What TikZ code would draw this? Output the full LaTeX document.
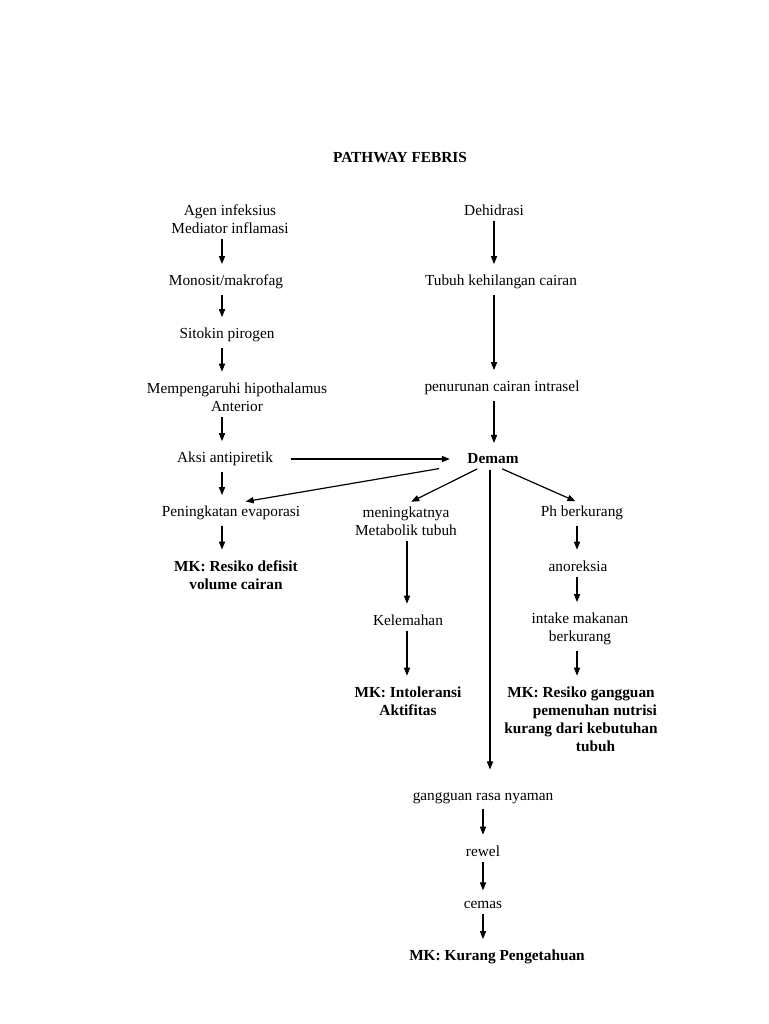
\documentclass[tikz,border=0pt]{standalone}
\usepackage{fontspec}
\setmainfont{Liberation Serif}
\usepackage{xcolor}
\usepackage{tikz}
\usetikzlibrary{calc, arrows.meta}

\begin{document}
\begin{tikzpicture}[x=0.75pt, y=-0.75pt,
        txt/.style={align=center, inner sep=3pt, yshift=-1.5pt,
                    font=\fontsize{11.5}{13.5}\selectfont},
        mk/.style={txt, font=\fontsize{11.5}{13.5}\selectfont\bfseries},
        arr/.style={-{Triangle[length=6pt, width=4.6pt]}, line width=0.9pt,
                    shorten >=5pt, shorten <=1pt}]
        \useasboundingbox (0,0) rectangle (768,1024);

        % Title
        \node[mk] (title) at (400,156) {PATHWAY FEBRIS};

        % Left column
        \node[txt] (agen)    at (230,217) {Agen infeksius\\Mediator inflamasi};
        \node[txt] (monosit) at (226,280) {Monosit/makrofag};
        \node[txt] (sitokin) at (227,333) {Sitokin pirogen};
        \node[txt] (hipo)    at (237,395) {Mempengaruhi hipothalamus\\Anterior};
        \node[txt] (aksi)    at (225,457) {Aksi antipiretik};
        \node[txt] (evap)    at (231,511) {Peningkatan evaporasi};
        \node[mk]  (mkcair)  at (236,573) {MK: Resiko defisit\\volume cairan};

        % Right column
        \node[txt] (dehid)   at (494,208) {Dehidrasi};
        \node[txt] (tubuh)   at (501,280) {Tubuh kehilangan cairan};
        \node[txt] (turun)   at (502,386) {penurunan cairan intrasel};
        \node[mk]  (demam)   at (493,457) {Demam};

        % Branches under Demam
        \node[txt] (metab)   at (406,519) {meningkatnya\\Metabolik tubuh};
        \node[txt] (lemah)   at (408,618) {Kelemahan};
        \node[mk]  (mkakt)   at (408,699) {MK: Intoleransi\\Aktifitas};
        \node[txt] (ph)      at (582,511) {Ph berkurang};
        \node[txt] (anor)    at (578,564) {anoreksia};
        \node[txt] (intake)  at (580,627) {intake makanan\\berkurang};
        \node[mk]  (mknutr)  at (581,717) {MK: Resiko gangguan\\
                                \hspace*{1.8em}pemenuhan nutrisi\\
                                kurang dari kebutuhan\\
                                \hspace*{1.9em}tubuh};
        \node[txt] (nyaman)  at (483,796) {gangguan rasa nyaman};
        \node[txt] (rewel)   at (483,849) {rewel};
        \node[txt] (cemas)   at (483,903) {cemas};
        \node[mk]  (mkpeng)  at (497,955) {MK: Kurang Pengetahuan};

        % Arrow columns
        \coordinate (colA) at (222,0);
        \coordinate (colB) at (494,0);
        \coordinate (colC) at (407,0);
        \coordinate (colD) at (577,0);
        \coordinate (colE) at (483,0);
        \coordinate (spine) at (490,0);

        % Arrows
        \draw[arr] (agen.south -| colA)    -- (monosit.north -| colA);
        \draw[arr] (monosit.south -| colA) -- (sitokin.north -| colA);
        \draw[arr] (sitokin.south -| colA) -- (hipo.north -| colA);
        \draw[arr] (hipo.south -| colA)    -- (aksi.north -| colA);
        \draw[arr] (aksi.south -| colA)    -- (evap.north -| colA);
        \draw[arr] (evap.south -| colA)    -- (mkcair.north -| colA);

        \draw[arr] (dehid.south -| colB)   -- (tubuh.north -| colB);
        \draw[arr] (tubuh.south -| colB)   -- (turun.north -| colB);
        \draw[arr] (turun.south -| colB)   -- (demam.north -| colB);

        \draw[arr, shorten <=10pt, shorten >=10pt] (aksi.east) -- (demam.west);
        \draw[arr, shorten >=1pt] ([xshift=-17pt]demam.south west) -- ([xshift=10pt]evap.north);
        \draw[arr, shorten >=1pt] ([xshift=-11pt]demam.south) -- ([xshift=3pt]metab.north);
        \draw[arr, shorten >=1pt] ([xshift=6pt]demam.south) -- ([xshift=-4pt]ph.north);
        \draw[arr, shorten >=14pt] (demam.south -| spine) -- (nyaman.north -| spine);

        \draw[arr] (metab.south -| colC)   -- (lemah.north -| colC);
        \draw[arr] (lemah.south -| colC)   -- (mkakt.north -| colC);

        \draw[arr] (ph.south -| colD)      -- (anor.north -| colD);
        \draw[arr] (anor.south -| colD)    -- (intake.north -| colD);
        \draw[arr] (intake.south -| colD)  -- (mknutr.north -| colD);

        \draw[arr] (nyaman.south -| colE)  -- (rewel.north -| colE);
        \draw[arr] (rewel.south -| colE)   -- (cemas.north -| colE);
        \draw[arr] (cemas.south -| colE)   -- (mkpeng.north -| colE);
      \end{tikzpicture}
\end{document}
